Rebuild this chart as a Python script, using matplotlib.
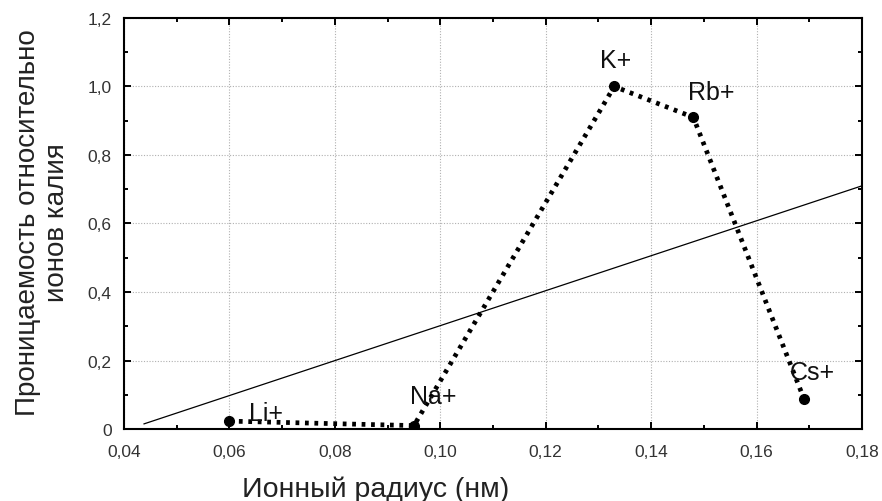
import matplotlib
matplotlib.use('Agg')
import matplotlib.pyplot as plt
import numpy as np
from matplotlib.ticker import MultipleLocator, FuncFormatter

plt.rcParams['font.family'] = ['Liberation Sans', 'DejaVu Sans']

# data
ions = ['Li+', 'Na+', 'K+', 'Rb+', 'Cs+']
radius = [0.060, 0.095, 0.133, 0.148, 0.169]
permeability = [0.023, 0.01, 1.0, 0.91, 0.088]
label_offsets = [(26, 6), (14, 21), (1, 19), (13, 18), (6, 19)]

# straight reference line
line_x = [0.0438, 0.18]
line_y = [0.015, 0.71]

fig = plt.figure(figsize=(8.82, 5.02), dpi=100)
ax = fig.add_axes([0.1406, 0.1434, 0.8367, 0.8188])

ax.plot(line_x, line_y, color='black', lw=0.9)
ax.plot(radius, permeability, color='black', lw=3.4, linestyle=(0, (0.8, 1.2)),
        marker='o', markersize=7)

for name, x, y, off in zip(ions, radius, permeability, label_offsets):
    ax.annotate(name, (x, y), xytext=off, textcoords='offset points',
                ha='center', va='center', fontsize=18, color='#111111')

ax.set_xlim(0.04, 0.18)
ax.set_ylim(0, 1.2)
ax.xaxis.set_major_locator(MultipleLocator(0.02))
ax.xaxis.set_minor_locator(MultipleLocator(0.01))
ax.yaxis.set_major_locator(MultipleLocator(0.2))
ax.yaxis.set_minor_locator(MultipleLocator(0.1))

def fmt_x(v, pos):
    return ('%.2f' % v).replace('.', ',')

def fmt_y(v, pos):
    if abs(v) < 1e-9:
        return '0'
    return ('%.1f' % v).replace('.', ',')

ax.xaxis.set_major_formatter(FuncFormatter(fmt_x))
ax.yaxis.set_major_formatter(FuncFormatter(fmt_y))

ax.tick_params(which='both', direction='in', top=True, right=True,
               labelsize=12.5, labelcolor='#333333', width=1.4)
ax.tick_params(which='major', length=5)
ax.tick_params(axis='x', which='major', pad=11)
ax.tick_params(axis='y', which='major', pad=9)
ax.tick_params(which='minor', length=3)
ax.grid(True, which='major', linestyle=(0, (1, 1.5)), color='#b0b0b0', lw=0.8)
for s in ax.spines.values():
    s.set_linewidth(1.5)

ax.set_xlabel('Ионный радиус (нм)', fontsize=20.5, color='#222222', va='center')
ax.xaxis.set_label_coords(0.341, -0.146)
ax.set_ylabel('Проницаемость относительно\nионов калия', fontsize=20,
              color='#222222', va='center', linespacing=1.15)
ax.yaxis.set_label_coords(-0.110, 0.505)

plt.savefig('out.png', dpi=100)
